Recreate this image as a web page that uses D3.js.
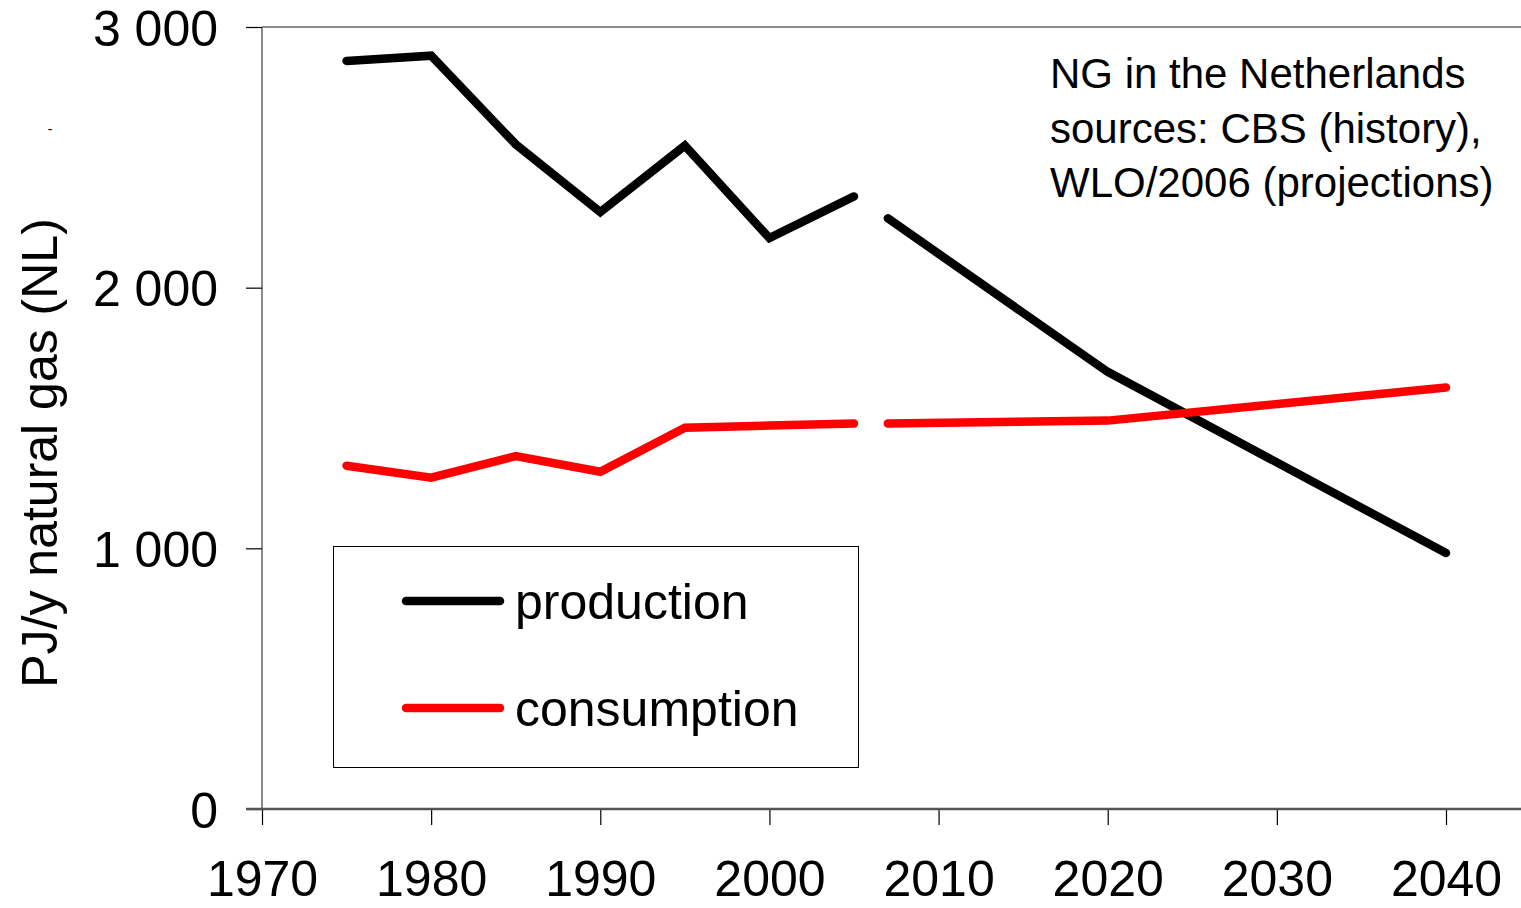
<!DOCTYPE html>
<html>
<head>
<meta charset="utf-8">
<script src="https://cdn.jsdelivr.net/npm/d3@7"></script>
<style>
  body { margin: 0; background: #fff; }
  svg text { font-family: "Liberation Sans", Arial, sans-serif; fill: #000; }
</style>
</head>
<body>
<script>
// history (CBS)
var histYears = [1975, 1980, 1985, 1990, 1995, 2000, 2005];
var histProduction = [2870, 2890, 2550, 2290, 2545, 2190, 2350];
var histConsumption = [1317, 1271, 1354, 1294, 1463, 1471, 1479];
// projections (WLO/2006)
var projYears = [2007, 2020, 2040];
var projProduction = [2266, 1677, 982];
var projConsumption = [1479, 1490, 1617];

var xTicks = [1970, 1980, 1990, 2000, 2010, 2020, 2030, 2040];
var yTicks = [0, 1000, 2000, 3000];
var noteLines = ["NG in the Netherlands", "sources: CBS (history),", "WLO/2006 (projections)"];
var legendItems = [{ label: "production", color: "#000" }, { label: "consumption", color: "#ff0000" }];

var W = 1521, H = 908;

var svg = d3.select("body").append("svg")
    .attr("width", W)
    .attr("height", H);

// scales
var x = d3.scaleLinear().domain([1970, 2040]).range([262, 1446]);
var y = d3.scaleLinear().domain([0, 3000]).range([809, 27]);

var fmt = function (d) { return d3.format(",")(d).replace(",", " "); };

// frame: top and left in grey
svg.append("line")
    .attr("x1", 262).attr("x2", W + 10).attr("y1", y(3000)).attr("y2", y(3000))
    .attr("stroke", "#8a8a8a").attr("stroke-width", 2);
svg.append("line")
    .attr("x1", 262).attr("x2", 262).attr("y1", y(3000)).attr("y2", y(0))
    .attr("stroke", "#8a8a8a").attr("stroke-width", 2);

// y-axis
var yAxis = svg.append("g")
    .attr("transform", "translate(262,0)")
    .call(d3.axisLeft(y).tickValues(yTicks).tickSize(16).tickPadding(28).tickFormat(fmt));
yAxis.select(".domain").remove();
yAxis.selectAll(".tick line").attr("stroke", "#000").attr("stroke-width", 1.2);
yAxis.selectAll(".tick text")
    .style("font-size", "50px")
    .attr("dy", "0.36em");

// x-axis
var xAxis = svg.append("g")
    .attr("transform", "translate(0," + y(0) + ")")
    .call(d3.axisBottom(x).tickValues(xTicks).tickSize(16).tickPadding(35).tickFormat(d3.format("d")));
xAxis.select(".domain").remove();
xAxis.selectAll(".tick line").attr("stroke", "#000").attr("stroke-width", 1.2);
xAxis.selectAll(".tick text").style("font-size", "50px");

svg.append("line")
    .attr("x1", 246).attr("x2", W + 10).attr("y1", y(0)).attr("y2", y(0))
    .attr("stroke", "#555").attr("stroke-width", 2.5);

// y-axis title
svg.append("text")
    .attr("transform", "translate(57,453) rotate(-90)")
    .attr("text-anchor", "middle")
    .style("font-size", "50px")
    .text("PJ/y natural gas (NL)");

// stray dash left of the axis
svg.append("text")
    .attr("x", 50).attr("y", 134)
    .attr("text-anchor", "middle")
    .style("font-size", "14px")
    .text("-");

// lines
var line = d3.line()
    .x(function (d) { return x(d[0]); })
    .y(function (d) { return y(d[1]); });

function series(years, values) {
    return years.map(function (yr, i) { return [yr, values[i]]; });
}

var segments = [
    { data: series(histYears, histProduction), color: "#000" },
    { data: series(projYears, projProduction), color: "#000" },
    { data: series(histYears, histConsumption), color: "#ff0000" },
    { data: series(projYears, projConsumption), color: "#ff0000" }
];

svg.selectAll("path.series")
    .data(segments)
    .enter().append("path")
    .attr("class", "series")
    .attr("d", function (d) { return line(d.data); })
    .attr("fill", "none")
    .attr("stroke", function (d) { return d.color; })
    .attr("stroke-width", 8.5)
    .attr("stroke-linecap", "round")
    .attr("stroke-linejoin", "miter");

// note
svg.append("g").selectAll("text")
    .data(noteLines)
    .enter().append("text")
    .attr("x", 1050)
    .attr("y", function (d, i) { return 88 + i * 54.5; })
    .style("font-size", "42px")
    .text(function (d) { return d; });

// legend
var legend = svg.append("g");
legend.append("rect")
    .attr("x", 333.5).attr("y", 546.5)
    .attr("width", 525).attr("height", 221)
    .attr("fill", "#fff")
    .attr("stroke", "#000").attr("stroke-width", 1);

var items = legend.selectAll("g.item")
    .data(legendItems)
    .enter().append("g")
    .attr("class", "item")
    .attr("transform", function (d, i) { return "translate(0," + (601 + i * 107) + ")"; });
items.append("line")
    .attr("x1", 406).attr("x2", 500)
    .attr("stroke", function (d) { return d.color; })
    .attr("stroke-width", 8.5)
    .attr("stroke-linecap", "round");
items.append("text")
    .attr("x", 515)
    .attr("y", 18)
    .style("font-size", "50px")
    .text(function (d) { return d.label; });
</script>
</body>
</html>
